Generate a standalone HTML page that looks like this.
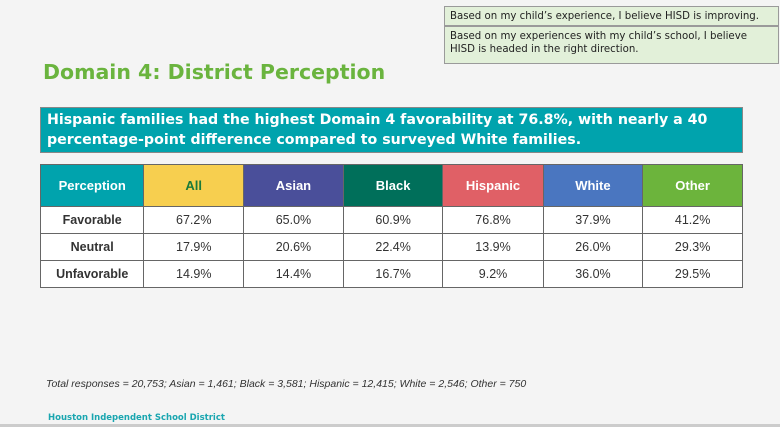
<!DOCTYPE html>
<html><head><meta charset="utf-8"><style>
body{margin:0;width:780px;height:427px;overflow:hidden;background:#f4f4f4;font-family:"Liberation Sans",sans-serif;position:relative}
.box{position:absolute;left:444px;width:335px;background:#e2f0d9;border:1px solid #9a9a9a;font-family:"DejaVu Sans",sans-serif;font-size:10.2px;color:#222;padding:0 5px;box-sizing:border-box;line-height:13px;white-space:nowrap}
h1{position:absolute;left:43px;top:60px;margin:0;font-family:"DejaVu Sans",sans-serif;font-size:20.5px;color:#6ab43e;font-weight:bold}
.banner{position:absolute;left:40px;top:107px;width:703px;height:46px;background:#00a3ad;border:1px solid #888;box-sizing:border-box;color:#fff;font-weight:bold;font-family:"DejaVu Sans",sans-serif;font-size:14.2px;line-height:20px;padding:2px 6px;white-space:nowrap}
table{position:absolute;left:40px;top:164px;border-collapse:collapse;width:703px}
td,th{border:1px solid #666;text-align:center;font-size:12.5px;width:100px;padding:0}
th{height:41px;color:#fff;font-size:13px}
td{height:26px;background:#fff;color:#333}
td.r{font-weight:bold;width:103px}
.note{position:absolute;left:46px;top:378px;font-size:10.5px;font-style:italic;color:#333}
.foot{position:absolute;left:48px;top:413px;font-family:"DejaVu Sans",sans-serif;font-size:8.5px;font-weight:bold;color:#1aa6b0}
.strip{position:absolute;left:0;top:424px;width:780px;height:3px;background:#ccc}
</style></head><body>
<div class="box" style="top:6px;height:20px;padding-top:3px">Based on my child’s experience, I believe HISD is improving.</div>
<div class="box" style="top:26px;height:38px;padding-top:3px">Based on my experiences with my child’s school, I believe<br>HISD is headed in the right direction.</div>
<h1>Domain 4: District Perception</h1>
<div class="banner">Hispanic families had the highest Domain 4 favorability at 76.8%, with nearly a 40<br>percentage-point difference compared to surveyed White families.</div>
<table>
<tr><th style="background:#00a3ad;width:103px">Perception</th><th style="background:#f7cf4f;color:#1a7a3a">All</th><th style="background:#4a4f9a">Asian</th><th style="background:#006f5a">Black</th><th style="background:#e06066">Hispanic</th><th style="background:#4a76c0">White</th><th style="background:#6cb43c">Other</th></tr>
<tr><td class="r">Favorable</td><td>67.2%</td><td>65.0%</td><td>60.9%</td><td>76.8%</td><td>37.9%</td><td>41.2%</td></tr>
<tr><td class="r">Neutral</td><td>17.9%</td><td>20.6%</td><td>22.4%</td><td>13.9%</td><td>26.0%</td><td>29.3%</td></tr>
<tr><td class="r">Unfavorable</td><td>14.9%</td><td>14.4%</td><td>16.7%</td><td>9.2%</td><td>36.0%</td><td>29.5%</td></tr>
</table>
<div class="note">Total responses = 20,753; Asian = 1,461; Black = 3,581; Hispanic = 12,415; White = 2,546; Other = 750</div>
<div class="foot">Houston Independent School District</div>
<div class="strip"></div>
</body></html>
